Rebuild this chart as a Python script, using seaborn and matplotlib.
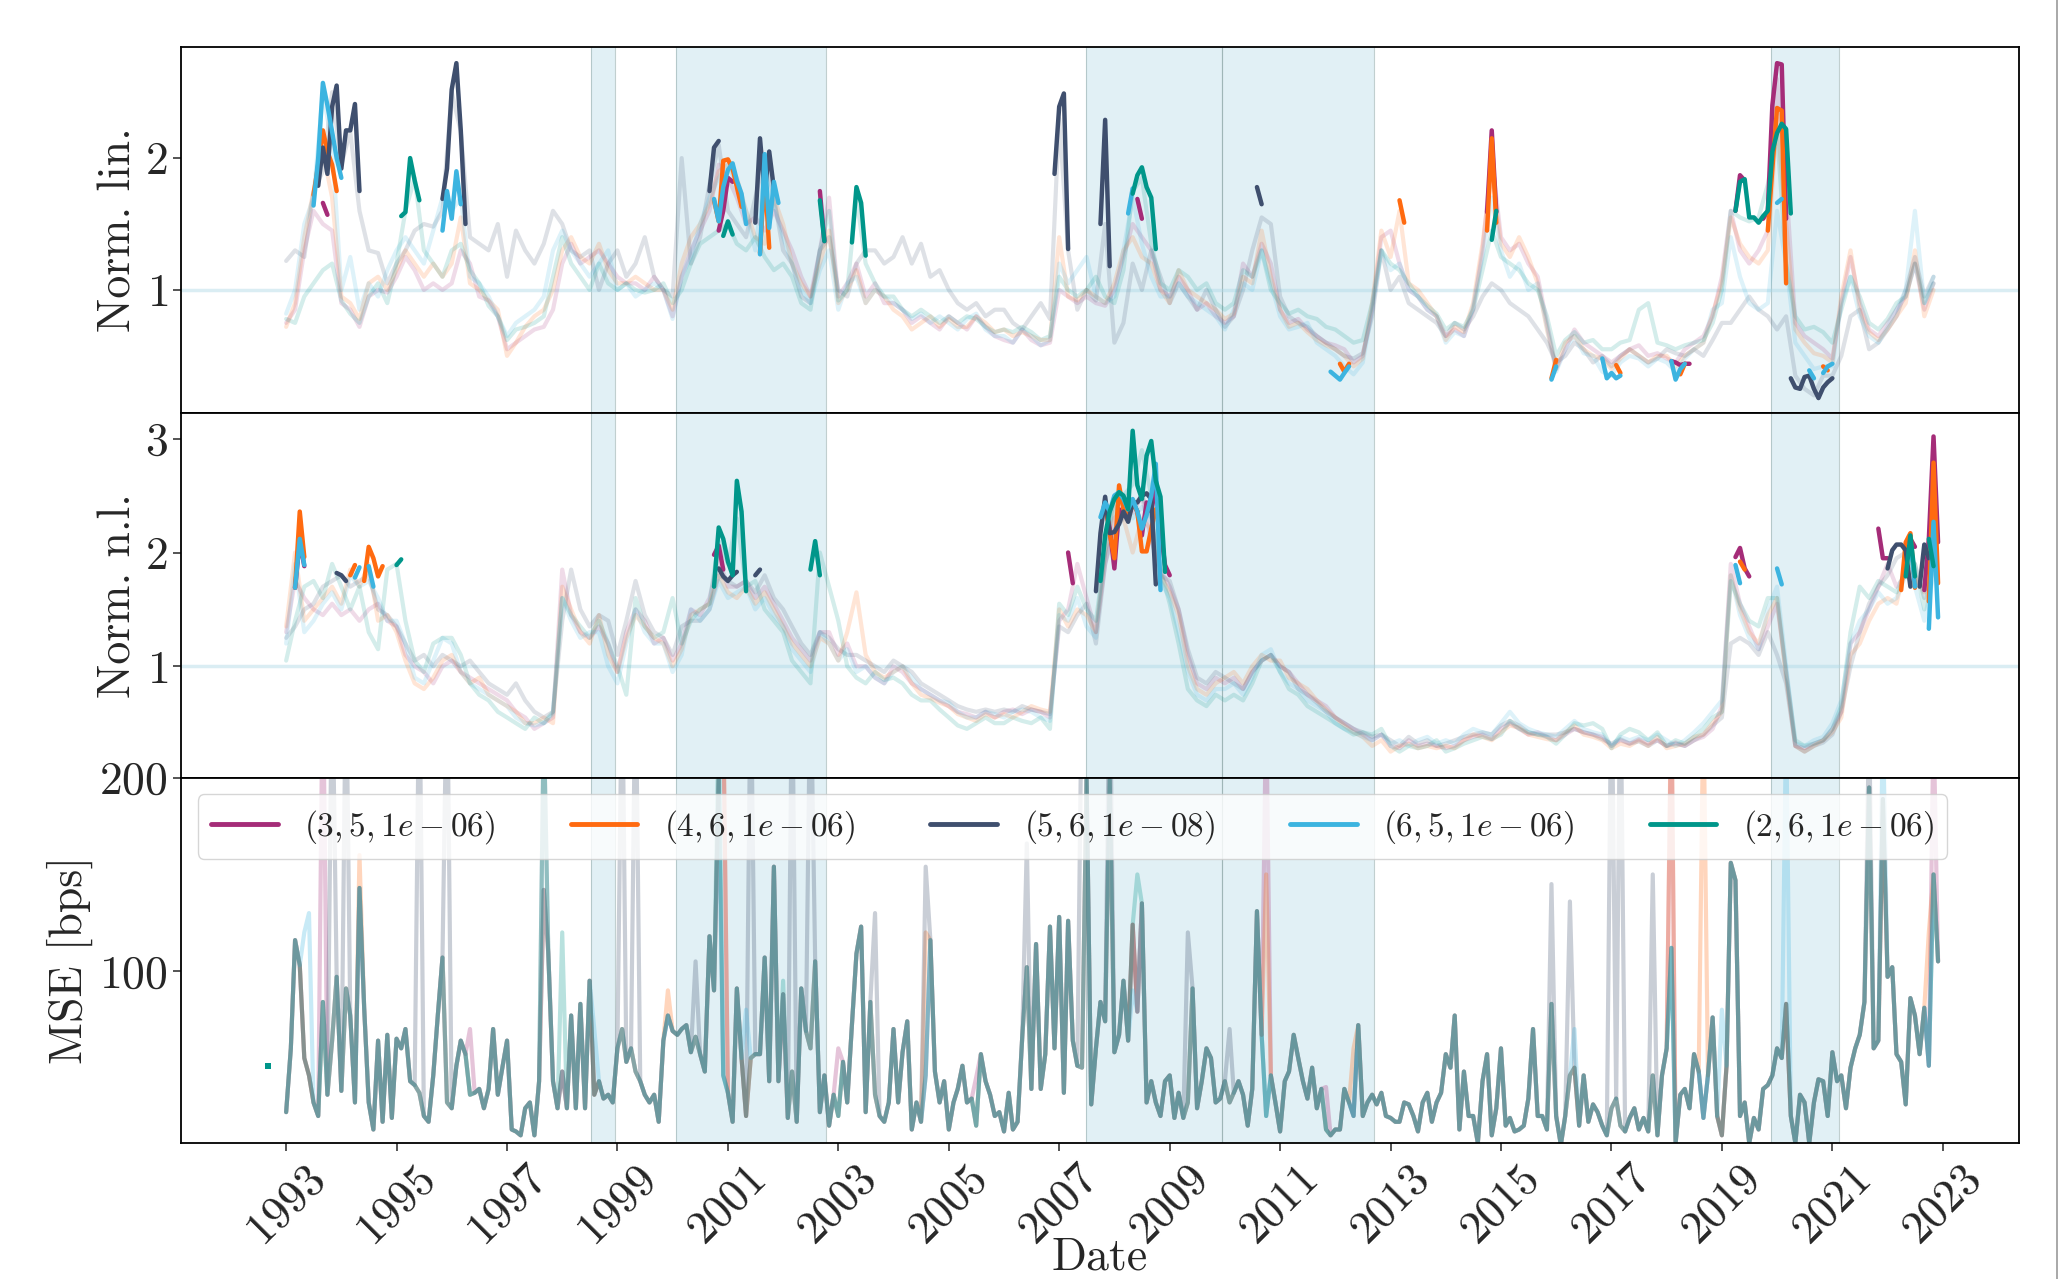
import numpy as np
import pandas as pd
import matplotlib
matplotlib.use("Agg")
import matplotlib.pyplot as plt
import seaborn as sns
from matplotlib.lines import Line2D

sns.set_theme(style="ticks")
plt.rcParams.update({
    "font.family": "serif",
    "font.serif": ["cmr10"],
    "mathtext.fontset": "cm",
    "axes.unicode_minus": False,
    "axes.formatter.use_mathtext": True,
    "axes.edgecolor": "black",
    "axes.linewidth": 1.3,
})

# ---------------- data ----------------
LABELS = [r"$(3,5,1e-06)$", r"$(4,6,1e-06)$", r"$(5,6,1e-08)$", r"$(6,5,1e-06)$", r"$(2,6,1e-06)$"]
COLORS = ["#a52c78", "#ff6a10", "#3f4f6e", "#3cb4e0", "#00968a"]

# Norm. lin. (bi-monthly from 1993-01)
LIN_P = [0.75,0.85,1.3,1.6,1.5,1.45, 0.9,0.85,0.72,0.95,1.0,0.98, 1.1,1.25,1.15,1.0,1.05,1.0,
         1.05,1.3,1.2,0.95,0.92,0.8, 0.55,0.6,0.65,0.7,0.72,0.85, 1.2,1.35,1.2,1.25,1.3,1.2,
         1.1,1.05,1.05,1.0,1.1,1.0, 0.8,1.1,1.3,1.45,1.6,1.95, 1.85,1.7,1.5,1.55,1.45,1.6,
         1.45,1.3,1.1,0.95,1.3,1.7, 0.95,1.05,1.2,0.95,1.05,0.9, 0.9,0.85,0.75,0.8,0.75,0.7,
         0.8,0.75,0.7,0.8,0.72,0.65, 0.62,0.6,0.7,0.62,0.58,0.6, 1.0,0.95,0.9,0.95,0.9,0.88,
         1.0,1.25,1.5,1.4,1.3,1.0, 0.95,1.1,1.0,0.85,0.9,0.8, 0.75,0.8,1.2,1.1,1.35,1.2,
         0.85,0.75,0.78,0.7,0.65,0.6, 0.58,0.55,0.45,0.5,0.85,1.4, 1.45,1.2,1.0,0.95,0.85,0.8,
         0.65,0.7,0.65,0.85,1.3,2.0, 1.4,1.3,1.35,1.2,1.1,0.75, 0.4,0.55,0.7,0.6,0.55,0.5,
         0.45,0.5,0.55,0.58,0.5,0.52, 0.48,0.45,0.55,0.6,0.65,0.8, 1.1,1.6,1.3,1.2,1.3,1.45,
         2.6,1.8,0.75,0.65,0.6,0.55, 0.48,0.9,1.25,0.9,0.7,0.65, 0.75,0.85,0.95,1.2,0.85,1.05]
LIN_O = [0.72,0.9,1.4,1.75,2.05,1.7, 0.95,0.9,0.78,1.05,1.1,1.0, 1.15,1.3,1.2,1.1,1.2,1.1,
         1.2,1.55,1.05,1.0,0.92,0.85, 0.5,0.6,0.72,0.8,0.85,1.0, 1.3,1.4,1.25,1.2,1.35,1.15,
         1.05,1.05,1.1,1.05,1.0,1.0, 0.85,1.2,1.4,1.5,1.65,1.9, 1.95,1.85,1.6,1.4,1.35,1.7,
         1.5,1.2,1.05,0.95,1.2,1.45, 0.9,1.0,1.15,0.9,1.0,0.95, 0.85,0.8,0.7,0.75,0.8,0.72,
         0.78,0.72,0.72,0.8,0.75,0.68, 0.7,0.65,0.68,0.65,0.62,0.62, 1.4,0.95,0.92,1.0,0.95,0.9,
         1.05,1.3,1.4,1.25,1.2,1.0, 0.9,1.15,1.0,0.95,0.9,0.85, 0.78,0.82,1.1,1.05,1.45,1.1,
         0.85,0.72,0.75,0.68,0.62,0.58, 0.55,0.5,0.42,0.48,0.9,1.45, 1.25,1.6,1.05,1.0,0.9,0.8,
         0.62,0.72,0.68,0.9,1.35,1.9, 1.35,1.25,1.4,1.25,1.05,0.7, 0.4,0.6,0.65,0.55,0.5,0.48,
         0.4,0.48,0.55,0.5,0.45,0.5, 0.5,0.42,0.5,0.55,0.6,0.82, 1.05,1.55,1.35,1.25,1.2,1.3,
         2.3,1.5,0.7,0.6,0.52,0.5, 0.45,0.95,1.3,0.85,0.68,0.62, 0.7,0.8,0.9,1.3,0.8,1.0]
LIN_N = [1.22,1.3,1.25,1.75,1.9,2.5, 1.95,2.2,1.6,1.3,1.28,1.05, 1.2,1.3,1.45,1.5,1.48,1.6,
         2.5,2.2,1.4,1.35,1.3,1.5, 1.1,1.45,1.3,1.2,1.35,1.6, 1.5,1.3,1.25,1.3,1.0,1.2,
         1.3,1.1,1.2,1.4,1.1,1.0, 0.95,2.0,1.2,1.4,1.8,2.1, 1.6,1.5,1.4,1.7,2.0,1.7,
         1.3,1.2,0.95,0.9,1.3,1.4, 1.0,0.95,1.2,1.3,1.3,1.2, 1.25,1.4,1.2,1.35,1.1,1.15,
         1.0,0.9,0.85,0.9,0.8,0.85, 0.85,0.75,0.7,0.8,0.9,0.78, 2.3,1.3,0.85,1.0,0.92,1.5,
         0.6,0.75,1.2,1.0,1.3,1.1, 0.9,1.05,0.95,0.85,1.0,0.85, 0.72,0.8,1.0,1.3,1.55,1.5,
         0.95,0.8,0.75,0.72,0.65,0.6, 0.55,0.5,0.48,0.52,0.8,1.3, 1.0,1.1,0.9,0.85,0.8,0.75,
         0.65,0.75,0.7,0.8,0.95,1.05, 1.0,0.9,0.85,0.8,0.7,0.6, 0.45,0.5,0.6,0.55,0.45,0.5,
         0.42,0.5,0.55,0.5,0.45,0.48, 0.55,0.52,0.5,0.55,0.5,0.62, 0.75,0.75,0.85,0.95,0.85,0.8,
         0.7,0.8,0.35,0.25,0.2,0.35, 0.35,0.5,0.8,0.85,0.55,0.6, 0.7,0.8,1.0,1.25,0.95,1.1]
LIN_L = [0.82,1.0,1.5,1.7,2.5,2.1, 1.0,1.25,0.85,1.05,0.95,1.15, 1.3,1.4,1.3,1.2,1.45,1.7,
         1.6,1.7,1.1,1.05,0.95,0.8, 0.65,0.75,0.8,0.85,0.95,1.3, 1.45,1.3,1.2,1.1,1.2,1.3,
         1.0,1.05,0.95,1.0,1.05,1.0, 0.78,1.1,1.25,1.5,1.7,1.85, 1.95,1.8,1.6,1.3,1.9,1.65,
         1.4,1.2,1.0,0.9,1.15,1.3, 0.85,1.05,1.1,0.9,1.0,0.95, 0.9,0.85,0.78,0.82,0.75,0.8,
         0.75,0.7,0.78,0.82,0.7,0.65, 0.65,0.6,0.7,0.65,0.58,0.62, 1.2,1.05,1.15,1.25,0.95,0.9,
         0.95,1.3,1.7,1.35,1.1,0.95, 0.95,1.05,0.95,0.9,0.85,0.8, 0.7,0.85,1.05,1.0,1.3,1.05,
         0.8,0.7,0.72,0.75,0.6,0.55, 0.5,0.42,0.36,0.45,0.85,1.3, 1.15,1.2,1.0,0.95,0.85,0.8,
         0.6,0.68,0.65,0.88,1.25,1.7, 1.3,1.1,1.2,1.0,1.05,0.72, 0.38,0.55,0.65,0.52,0.5,0.38,
         0.35,0.45,0.5,0.48,0.42,0.48, 0.45,0.38,0.48,0.55,0.6,0.85, 0.9,1.4,1.1,0.9,0.85,0.9,
         1.6,1.2,0.6,0.5,0.4,0.42, 0.42,0.9,1.1,0.8,0.65,0.6, 0.72,0.85,1.0,1.6,0.9,1.1]
LIN_T = [0.78,0.75,0.95,1.05,1.15,1.2, 0.92,0.82,0.75,0.95,1.05,0.9, 1.2,1.6,1.85,1.3,1.2,1.1,
         1.3,1.35,1.15,1.05,0.88,0.8, 0.62,0.7,0.72,0.75,0.8,1.1, 1.4,1.2,1.1,1.0,1.2,1.05,
         1.0,1.05,1.0,0.98,1.0,1.05, 0.9,1.0,1.2,1.35,1.4,1.45, 1.5,1.35,1.3,1.4,1.25,1.15,
         1.2,1.1,0.9,0.85,1.3,1.6, 0.92,1.0,1.7,1.2,1.05,0.95, 0.95,0.85,0.8,0.85,0.8,0.75,
         0.8,0.75,0.8,0.78,0.72,0.68, 0.7,0.68,0.72,0.68,0.62,0.65, 1.1,1.0,0.95,1.0,1.1,0.95,
         0.9,1.15,1.75,1.85,1.35,1.05, 1.0,1.15,1.1,1.0,1.05,0.9, 0.85,0.9,1.15,1.1,1.3,1.0,
         0.9,0.82,0.85,0.8,0.78,0.72, 0.7,0.65,0.6,0.62,0.9,1.3, 1.2,1.15,1.05,0.95,0.88,0.82,
         0.7,0.75,0.72,0.85,1.15,1.45, 1.25,1.2,1.15,1.05,1.0,0.8, 0.5,0.62,0.68,0.6,0.62,0.55,
         0.55,0.6,0.62,0.85,0.9,0.6, 0.58,0.55,0.58,0.6,0.62,0.75, 1.0,1.6,1.55,1.52,1.55,1.8,
         2.2,1.2,0.8,0.7,0.72,0.68, 0.6,0.85,1.1,0.95,0.75,0.7, 0.78,0.9,0.95,1.2,0.9,1.05]

# Norm. n.l. (bi-monthly from 1993-01)
NL_P = [1.3,1.75,1.6,1.5,1.45,1.55, 1.45,1.5,1.4,1.5,1.55,1.4, 1.35,1.1,1.0,0.95,0.85,1.0,
        1.05,0.95,0.9,0.85,0.8,0.75, 0.7,0.6,0.55,0.45,0.5,0.55, 1.85,1.45,1.3,1.25,1.35,1.2,
        0.95,1.3,1.5,1.4,1.2,1.25, 1.05,1.2,1.5,1.45,1.6,1.95, 1.7,1.7,1.75,1.6,1.7,1.55,
        1.4,1.25,1.15,1.05,1.3,1.3, 1.1,1.2,1.0,1.0,0.9,0.85, 1.0,0.95,0.85,0.8,0.75,0.7,
        0.65,0.6,0.58,0.55,0.6,0.55, 0.6,0.62,0.58,0.62,0.6,0.55, 1.4,1.5,1.9,1.6,1.3,1.9,
        2.3,2.4,2.35,2.5,2.1,1.85, 1.7,1.5,1.1,0.85,0.8,0.9, 0.85,0.9,0.8,0.95,1.05,1.1,
        1.0,0.95,0.85,0.75,0.7,0.65, 0.55,0.5,0.45,0.4,0.35,0.4, 0.3,0.28,0.35,0.3,0.32,0.3,
        0.28,0.3,0.35,0.38,0.4,0.36, 0.45,0.5,0.45,0.4,0.42,0.38, 0.35,0.4,0.45,0.42,0.4,0.38,
        0.3,0.35,0.32,0.36,0.32,0.35, 0.3,0.33,0.3,0.35,0.38,0.45, 0.65,1.9,1.55,1.35,1.15,1.35,
        1.55,0.95,0.3,0.28,0.32,0.35, 0.45,0.6,1.2,1.3,1.5,1.7, 1.9,1.7,1.8,1.75,1.7,2.5]
NL_O = [1.35,2.0,1.4,1.5,1.6,1.7, 1.55,1.85,1.7,1.9,1.4,1.45, 1.3,1.05,0.85,0.8,0.9,1.05,
        1.1,0.95,0.85,0.9,0.75,0.7, 0.65,0.6,0.5,0.5,0.55,0.5, 1.7,1.5,1.3,1.2,1.45,1.1,
        0.95,1.25,1.45,1.35,1.25,1.2, 1.0,1.15,1.45,1.5,1.55,1.8, 1.65,1.6,1.7,1.55,1.65,1.5,
        1.35,1.2,1.1,1.0,1.25,1.2, 1.05,1.3,1.65,1.1,0.95,0.9, 0.95,1.0,0.85,0.75,0.72,0.68,
        0.65,0.58,0.55,0.52,0.58,0.55, 0.58,0.55,0.6,0.65,0.62,0.6, 1.5,1.35,1.5,1.45,1.3,2.0,
        2.4,2.3,2.0,2.3,2.2,1.8, 1.65,1.45,1.0,0.8,0.75,0.85, 0.9,0.95,0.85,1.0,1.1,1.05,
        1.05,0.9,0.85,0.8,0.7,0.62, 0.55,0.48,0.42,0.38,0.3,0.35, 0.25,0.3,0.32,0.28,0.3,0.28,
        0.3,0.28,0.35,0.4,0.38,0.35, 0.42,0.48,0.46,0.4,0.38,0.36, 0.35,0.42,0.48,0.4,0.38,0.35,
        0.28,0.32,0.3,0.35,0.3,0.38, 0.28,0.3,0.32,0.38,0.4,0.5, 0.6,1.8,1.5,1.3,1.2,1.45,
        1.6,0.9,0.3,0.25,0.3,0.35, 0.42,0.55,1.1,1.2,1.4,1.55, 1.6,1.55,1.9,1.8,1.65,2.0]
NL_N = [1.25,1.35,1.5,1.55,1.7,1.75, 1.8,1.7,1.75,1.8,1.5,1.45, 1.35,1.2,1.05,1.1,1.0,1.1,
        1.05,1.0,1.05,0.95,0.85,0.8, 0.75,0.85,0.7,0.6,0.55,0.6, 1.4,1.85,1.5,1.35,1.45,1.4,
        1.1,1.4,1.75,1.45,1.3,1.25, 1.1,1.35,1.4,1.4,1.5,1.8, 1.75,1.7,1.75,1.65,1.8,1.6,
        1.5,1.35,1.2,1.1,1.3,1.25, 1.15,1.1,1.1,1.05,1.0,0.95, 1.05,1.0,0.95,0.85,0.8,0.75,
        0.7,0.65,0.62,0.6,0.62,0.6, 0.62,0.6,0.65,0.62,0.6,0.58, 1.35,1.3,1.45,1.55,1.2,1.9,
        2.2,2.3,2.4,2.5,2.3,1.8, 1.75,1.5,1.15,0.9,0.85,0.95, 0.9,0.85,0.8,0.95,1.05,1.1,
        1.0,0.95,0.8,0.75,0.68,0.6, 0.55,0.5,0.45,0.42,0.38,0.4, 0.35,0.3,0.38,0.32,0.35,0.3,
        0.32,0.35,0.38,0.4,0.42,0.4, 0.48,0.52,0.48,0.42,0.4,0.4, 0.4,0.42,0.45,0.42,0.4,0.36,
        0.32,0.36,0.32,0.34,0.3,0.35, 0.3,0.32,0.3,0.35,0.4,0.48, 0.55,1.2,1.25,1.2,1.1,1.3,
        1.1,0.85,0.3,0.25,0.3,0.33, 0.4,0.6,1.0,1.3,1.55,1.7, 1.8,1.95,2.0,1.9,1.6,1.85]
NL_L = [1.2,1.9,1.3,1.4,1.55,1.65, 1.5,1.8,1.7,1.75,1.6,1.4, 1.4,1.2,0.9,0.85,1.05,1.25,
        1.2,0.95,0.85,0.8,0.75,0.7, 0.65,0.55,0.5,0.48,0.5,0.58, 1.6,1.4,1.25,1.3,1.3,1.0,
        0.85,1.2,1.5,1.3,1.2,1.2, 0.95,1.1,1.5,1.4,1.5,1.75, 1.6,1.65,1.7,1.5,1.6,1.45,
        1.35,1.15,1.05,0.95,1.3,1.2, 1.05,1.15,0.95,1.0,0.9,0.85, 0.95,1.0,0.9,0.8,0.75,0.7,
        0.68,0.6,0.55,0.55,0.6,0.58, 0.55,0.6,0.62,0.6,0.55,0.52, 1.45,1.4,1.6,1.35,1.25,2.1,
        2.4,2.45,2.3,2.4,2.3,1.75, 1.6,1.3,0.95,0.75,0.7,0.8, 0.8,0.85,0.75,0.9,1.1,1.15,
        0.95,0.85,0.8,0.7,0.65,0.6, 0.5,0.45,0.42,0.38,0.35,0.4, 0.32,0.35,0.3,0.35,0.38,0.32,
        0.35,0.32,0.4,0.45,0.42,0.4, 0.5,0.6,0.5,0.45,0.42,0.4, 0.38,0.45,0.52,0.45,0.42,0.4,
        0.3,0.38,0.35,0.38,0.35,0.4, 0.35,0.3,0.35,0.42,0.5,0.6, 0.7,1.8,1.45,1.25,1.15,1.5,
        1.7,1.0,0.32,0.3,0.35,0.38, 0.5,0.7,1.2,1.4,1.5,1.65, 1.55,1.6,1.8,1.7,1.4,1.8]
NL_T = [1.05,1.4,1.7,1.75,1.6,1.9, 1.7,1.5,1.7,1.3,1.15,1.85, 1.9,1.4,1.05,0.95,1.2,1.25,
        1.25,1.1,0.85,0.75,0.7,0.6, 0.55,0.5,0.45,0.55,0.5,0.6, 1.6,1.45,1.35,1.25,1.4,1.2,
        1.0,0.75,1.6,1.35,1.25,1.3, 1.6,1.2,1.4,1.5,1.55,2.1, 1.9,2.3,1.7,1.75,1.5,1.4,
        1.3,1.05,0.95,0.85,2.0,1.7, 1.4,1.0,0.9,0.85,0.95,0.88, 0.9,0.85,0.75,0.7,0.7,0.62,
        0.55,0.48,0.45,0.5,0.55,0.5, 0.5,0.55,0.52,0.5,0.55,0.45, 1.55,1.45,1.7,1.5,1.4,2.0,
        2.5,2.5,2.6,2.9,2.5,1.85, 1.55,1.2,0.8,0.7,0.65,0.75, 0.7,0.75,0.7,0.85,1.05,1.1,
        0.95,0.8,0.75,0.65,0.6,0.55, 0.5,0.45,0.4,0.42,0.4,0.45, 0.3,0.25,0.3,0.28,0.3,0.35,
        0.25,0.28,0.32,0.35,0.38,0.36, 0.4,0.52,0.45,0.42,0.4,0.38, 0.32,0.4,0.5,0.48,0.5,0.45,
        0.28,0.4,0.45,0.42,0.35,0.42, 0.3,0.35,0.32,0.38,0.45,0.55, 0.6,1.75,1.55,1.4,1.35,1.6,
        1.6,0.95,0.35,0.3,0.32,0.35, 0.45,0.65,1.3,1.7,1.6,1.75, 1.7,1.65,1.85,1.9,1.5,1.95]

# highlighted (monthly) stretches: (first month, values)
HL_LIN = [
    [("1993-09", [1.66, 1.57]), ("2000-11", [1.45, 1.6, 1.85, 1.82]), ("2002-09", [1.75, 1.37]),
     ("2008-06", [1.69, 1.54]), ("2014-10", [1.59, 2.21, 1.59]), ("2018-02", [0.46, 0.45, 0.43, 0.44, 0.44]),
     ("2019-04", [1.6, 1.87, 1.83]), ("2019-10", [1.54, 1.6, 2.40, 2.72, 2.71, 1.54])],
    [("1993-07", [1.72, 1.95, 2.21, 2.05, 1.95, 1.75]), ("2000-10", [1.68, 1.52, 1.98, 1.99, 1.92, 1.78, 1.63]),
     ("2001-08", [1.28, 1.88, 1.32]), ("2012-02", [0.44, 0.38, 0.44]), ("2013-03", [1.68, 1.51]),
     ("2014-10", [1.45, 2.15, 1.51]), ("2015-12", [0.33, 0.47]), ("2017-02", [0.43, 0.37]),
     ("2018-04", [0.36, 0.44]), ("2019-11", [1.45, 1.92, 2.38, 2.36, 1.05]), ("2020-11", [0.42, 0.39])],
    [("1993-08", [1.79, 2.08, 1.88, 2.39, 2.55, 1.92, 2.21, 2.21, 2.41, 1.75]),
     ("1995-11", [1.69, 1.92, 2.52, 2.72, 2.21, 1.5]), ("2000-09", [1.75, 2.08, 2.13]),
     ("2001-07", [1.51, 2.15, 1.74, 2.05, 1.77]), ("2006-12", [1.88, 2.39, 2.49, 1.31]),
     ("2007-10", [1.5, 2.29, 1.18]), ("2010-08", [1.78, 1.65]),
     ("2020-04", [0.33, 0.26, 0.25, 0.34, 0.35, 0.25, 0.18, 0.26, 0.30, 0.33])],
    [("1993-07", [1.64, 2.0, 2.57, 2.4, 2.2, 2.0, 1.85]), ("1995-11", [1.45, 1.75, 1.54, 1.9, 1.65]),
     ("2000-10", [1.69, 1.52, 1.78, 1.91, 1.96, 1.83, 1.73, 1.5]), ("2001-08", [1.27, 2.03, 1.47, 1.82, 1.66]),
     ("2008-04", [1.58, 1.77]), ("2011-12", [0.38, 0.35, 0.32, 0.37, 0.42]), ("2015-12", [0.32, 0.42]),
     ("2016-11", [0.48, 0.33, 0.37, 0.33, 0.35]), ("2018-02", [0.46, 0.32, 0.40, 0.44]),
     ("2020-01", [1.66, 1.69]), ("2020-08", [0.39, 0.33]), ("2020-11", [0.37, 0.42, 0.44])],
    [("1995-02", [1.56, 1.59, 2.0, 1.83, 1.68]), ("2000-12", [1.41, 1.52, 1.42]), ("2002-09", [1.68, 1.37]),
     ("2003-04", [1.36, 1.78, 1.66, 1.26]), ("2008-05", [1.73, 1.87, 1.93, 1.78, 1.70, 1.31]),
     ("2014-11", [1.38, 1.6]),
     ("2019-04", [1.6, 1.82, 1.84, 1.55, 1.55, 1.51, 1.56, 1.6, 2.05, 2.19, 2.26, 2.22, 1.58])],
]
HL_NL = [
    [("1993-03", [1.69, 2.1, 1.88]), ("2000-10", [1.98, 2.06, 1.85]), ("2007-03", [2.0, 1.73]),
     ("2007-11", [2.41, 2.21, 1.86, 2.38, 2.33, 2.30, 2.44, 2.36, 2.15, 2.44, 2.36, 2.59, 2.2, 1.89, 1.80]),
     ("2019-04", [1.96, 2.04, 1.86, 1.79]), ("2021-11", [2.21, 1.95, 1.95]), ("2022-06", [2.12, 2.05]),
     ("2022-09", [1.67, 2.12, 3.02, 2.09])],
    [("1993-03", [1.69, 2.36, 1.96]), ("1994-03", [1.80, 1.89]), ("1994-06", [1.75, 2.05, 1.95, 1.79, 1.88]),
     ("2007-11", [2.44, 2.17, 1.95, 2.59, 2.38, 2.30, 2.44, 2.36, 2.01, 2.01, 2.21, 2.38]),
     ("2019-05", [1.92, 1.85]), ("2022-04", [1.67, 2.09, 2.17, 1.69]), ("2022-10", [1.57, 2.79, 1.73])],
    [("1993-12", [1.82, 1.80, 1.75]), ("2000-11", [1.86, 1.79, 1.75, 1.80, 1.83]), ("2001-07", [1.80, 1.85]),
     ("2007-09", [1.66, 2.17, 2.49, 2.17, 2.18, 2.25, 2.36, 2.27, 2.44, 2.44, 2.50, 2.52, 2.47, 1.72]),
     ("2022-01", [1.86, 2.02, 2.07, 2.07, 2.02, 1.7]), ("2022-08", [1.7, 2.07, 1.95])],
    [("1993-03", [1.69, 2.12, 1.89]), ("1994-04", [1.78, 1.87]), ("1994-07", [1.88, 1.70]),
     ("2007-10", [2.31, 2.44, 2.36, 2.50, 2.53, 2.47, 2.38, 2.47, 2.36, 2.21, 2.33, 2.50, 2.78, 1.67]),
     ("2019-04", [1.89, 1.73]), ("2020-01", [1.86, 1.72]), ("2022-06", [2.1, 1.7]),
     ("2022-10", [1.33, 2.27, 1.43])],
    [("1995-01", [1.89, 1.94]), ("2000-10", [1.70, 2.22, 2.12, 1.92, 1.80, 2.63, 2.36, 1.66]),
     ("2002-07", [1.85, 2.10, 1.80]),
     ("2007-10", [1.75, 2.15, 2.36, 2.47, 2.53, 2.50, 2.38, 3.07, 2.59, 2.47, 2.85, 2.98, 2.63, 2.49, 1.83]),
     ("2022-05", [1.79, 2.15, 1.79]), ("2022-10", [2.12, 1.88])],
]

# MSE [bps], monthly from 1993-01 (common path of the five models)
MSE_COMMON = [
    27,60,116,103,55,46,32,25,84,36, 64,97,38,91,77,32,143,81,32,18,
    64,22,67,24,65,60,70,43,41,37, 25,22,46,77,107,32,29,51,64,57,
    36,37,39,29,39,70,36,50,64,18, 17,15,29,32,15,43,142,109,43,29,
    48,29,77,29,83,29,95,36,43,34, 36,32,60,70,53,60,48,43,36,32,
    36,22,64,77,69,67,70,72,58,66,
    57,48,118,90,199,46,37,22,91,55, 25,55,57,57,107,43,154,43,88,24,
    48,22,91,69,60,105,27,46,20,36, 25,53,32,72,109,123,27,84,36,25,
    22,32,70,32,58,74,18,32,22,46, 116,48,32,43,18,32,39,51,32,34,
    20,57,43,36,25,27,17,37,18,22, 65,102,39,114,39,57,123,60,128,37,
    126,64,51,50,199,31,60,84,74,199, 58,67,95,64,124,79,135,32,43,32,
    25,43,46,24,37,24,32,91,29,43, 60,55,32,34,43,32,37,43,36,20,
    39,131,67,25,46,32,17,43,48,67, 55,43,34,50,29,39,18,15,18,18,
    39,32,25,72,25,32,36,31,37,25, 24,22,
    22,32,31,25,17,32,37,22,32,37, 57,50,77,18,48,25,25,11,43,57,
    15,29,60,20,24,17,18,20,34,70, 25,25,18,83,25,10,25,46,50,20,
    46,22,31,27,20,15,29,34,20,17, 24,29,18,24,17,46,15,46,60,112,
    11,36,39,29,57,48,24,46,76,25, 15,51,156,147,25,32,11,24,18,39,
    41,46,60,55,83,25,11,36,32,11, 32,44,43,25,58,43,46,29,50,60,
    67,84,195,60,64,189,97,102,57,53, 31,86,77,57,81,51,150,105]
# model specific departures (month index -> value)
MSE_DEV = [
    {8: 260, 95: 230, 213: 240, 301: 240, 358: 230, 40: 70, 120: 60, 150: 45, 226: 40},
    {16: 160, 95: 240, 301: 250, 308: 240, 213: 150, 83: 90, 139: 120, 232: 60, 357: 120},
    {10: 260, 13: 260, 29: 260, 35: 260, 56: 230, 73: 260, 76: 260, 101: 260, 110: 260, 114: 260,
     139: 154, 161: 166, 173: 260, 179: 260, 275: 145, 279: 136, 288: 260, 290: 260, 297: 150,
     344: 230, 89: 105, 128: 130, 196: 120, 205: 70},
    {4: 120, 5: 130, 100: 80, 326: 230, 347: 230, 184: 90, 67: 70, 280: 70, 312: 80},
    {56: 230, 94: 230, 60: 120, 108: 95, 185: 150},
]
TEAL_EARLY = ("1992-09", 51)

SPANS = [("1998-07-08", "1998-12-13"), ("2000-01-26", "2002-10-12"), ("2007-06-28", "2009-12-16"),
         ("2009-12-16", "2012-09-13"), ("2019-11-20", "2021-02-14")]
YEAR_TICKS = list(range(1993, 2024, 2))

# ---------------- figure ----------------
fig, axes = plt.subplots(3, 1, figsize=(20.6, 12.79), dpi=100, sharex=True)
fig.subplots_adjust(left=0.0879, right=0.980, top=0.963, bottom=0.1063, hspace=0)

FS = 33
FAINT_A = 0.17


def bimonthly(arr):
    return pd.date_range("1993-01-01", periods=len(arr), freq="2MS")


for ax in axes:
    for s, e in SPANS:
        ax.axvspan(pd.Timestamp(s), pd.Timestamp(e), facecolor="#add8e6", alpha=0.36, lw=0, zorder=0)
        for d in (s, e):
            ax.axvline(pd.Timestamp(d), color="#8fa8a8", lw=0.8, alpha=0.55, zorder=0.5)

panel_series = [[LIN_P, LIN_O, LIN_N, LIN_L, LIN_T], [NL_P, NL_O, NL_N, NL_L, NL_T]]
panel_hl = [HL_LIN, HL_NL]
for k in range(2):
    ax = axes[k]
    ax.axhline(1, color="#add8e6", alpha=0.45, lw=2.5, zorder=1)
    for i, arr in enumerate(panel_series[k]):
        sns.lineplot(x=bimonthly(arr), y=arr, color=COLORS[i], alpha=FAINT_A, lw=3, ax=ax,
                     estimator=None, sort=False, legend=False, zorder=2)
    for i, segs in enumerate(panel_hl[k]):
        for start, vals in segs:
            d = pd.date_range(start + "-01", periods=len(vals), freq="MS")
            sns.lineplot(x=d, y=vals, color=COLORS[i], lw=3.2, ax=ax, estimator=None,
                         sort=False, legend=False, zorder=3)

axm = axes[2]
mdates = pd.date_range("1993-01-01", periods=len(MSE_COMMON), freq="MS")
for i in range(5):
    vals = np.array(MSE_COMMON, dtype=float)
    for idx, v in MSE_DEV[i].items():
        if idx < len(vals):
            vals[idx] = v
    sns.lineplot(x=mdates, y=vals, color=COLORS[i], alpha=0.28, lw=3, ax=axm,
                 estimator=None, sort=False, legend=False, zorder=2)
sns.scatterplot(x=[pd.Timestamp(TEAL_EARLY[0] + "-01")], y=[TEAL_EARLY[1]], color=COLORS[4],
                marker="s", s=14, linewidth=0, ax=axm, legend=False, zorder=3)

# axes cosmetics
axes[0].set_ylim(0.07, 2.84)
axes[0].set_yticks([1, 2])
axes[1].set_ylim(0.02, 3.23)
axes[1].set_yticks([1, 2, 3])
axm.set_ylim(11, 200)
axm.set_yticks([100, 200])
axes[0].set_ylabel("Norm. lin.", fontsize=FS)
axes[1].set_ylabel("Norm. n.l.", fontsize=FS)
axm.set_ylabel("MSE [bps]", fontsize=FS)
axm.set_xlabel("Date", fontsize=FS, labelpad=-10)
axm.set_xlim(pd.Timestamp("1991-02-06"), pd.Timestamp("2024-05-18"))
axm.set_xticks([pd.Timestamp(f"{y}-01-01") for y in YEAR_TICKS])
axm.set_xticklabels([str(y) for y in YEAR_TICKS], rotation=45)
for ax in axes:
    ax.tick_params(axis="y", labelsize=FS, length=6, width=1.1, direction="out", left=True)
    for sp in ax.spines.values():
        sp.set_visible(True)
        sp.set_color("black")
for ax in axes[:2]:
    ax.tick_params(axis="x", bottom=False, labelbottom=False)
axm.tick_params(axis="x", labelsize=FS, length=6, width=1.1, direction="out", bottom=True)

handles = [Line2D([0], [0], color=c, lw=3.5) for c in COLORS]
leg = axm.legend(handles, LABELS, loc="upper left", ncol=5, fontsize=24, frameon=True,
                 framealpha=0.8, fancybox=True, edgecolor="#cccccc", handlelength=2.0,
                 columnspacing=2.25)

fig.add_artist(Line2D([0.9985, 0.9985], [0, 1], transform=fig.transFigure, color="#9a9a9a", lw=1.2))

fig.savefig("out.png", dpi=100)
